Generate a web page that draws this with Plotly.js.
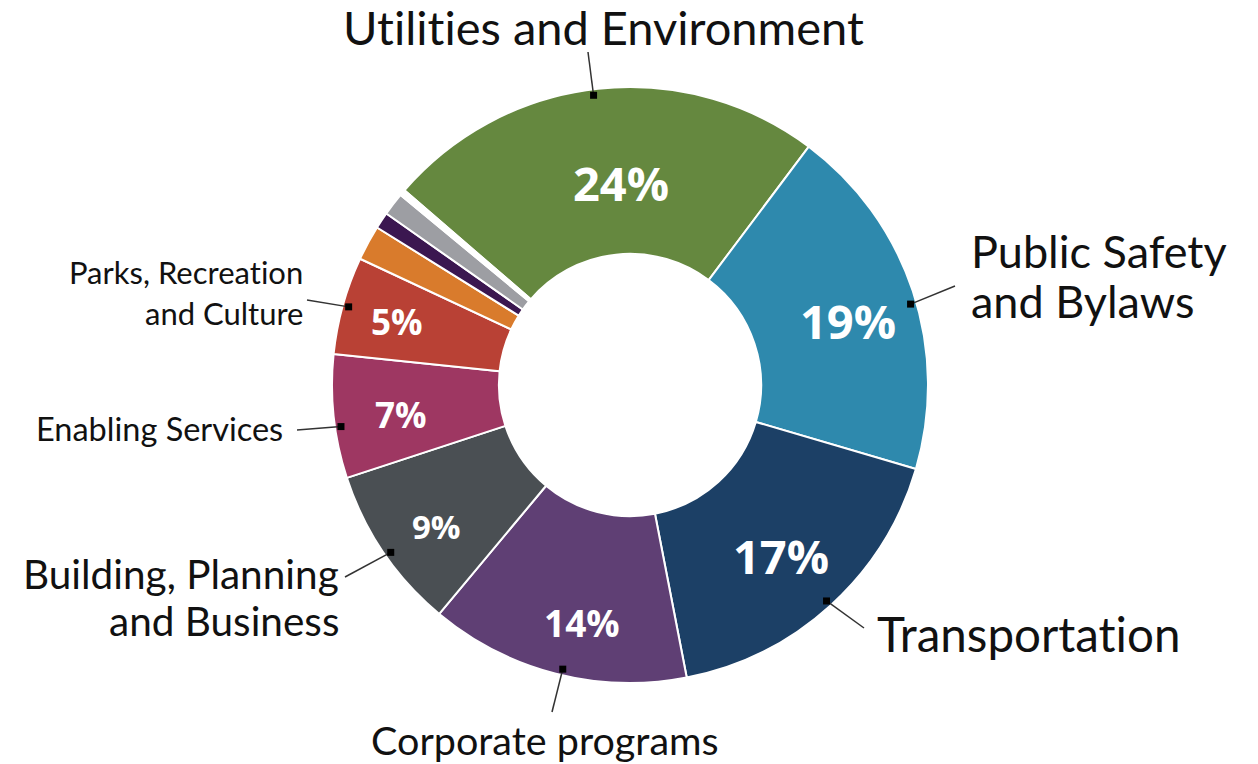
<!DOCTYPE html>
<html><head><meta charset="utf-8">
<script src="https://cdn.plot.ly/plotly-3.0.1.min.js"></script>
<style>html,body{margin:0;padding:0;background:#fff;} #chart{width:1258px;height:764px;}
text{font-variant-ligatures:none;font-feature-settings:"liga" 0,"clig" 0;}</style>
</head><body><div id="chart"></div>
<script>
// ---- data ----
const categories = ["Utilities and Environment","Public Safety and Bylaws","Transportation","Corporate programs","Building, Planning and Business","Enabling Services","Parks, Recreation and Culture","Other A","Other B","Other C","Other D","Other E","Other F"];
const shares = [23.9, 19.3, 17.4, 14.1, 8.9, 6.7, 5.3, 1.9, 0.9, 1.25, 0.12, 0.1, 0.1];
const pctLabels = ["24%","19%","17%","14%","9%","7%","5%"];
const calloutLines = [["Utilities and Environment"],["Public Safety","and Bylaws"],["Transportation"],["Corporate programs"],["Building, Planning","and Business"],["Enabling Services"],["Parks, Recreation","and Culture"]];

// ---- styles / layout ----
const sliceColors = ["#65883f","#2e89ad","#1c4066","#5f3f74","#4a4f53","#9e3762","#b94135","#d97b2c","#3b1750","#9d9ea3","#d8d8d8","#5b5b5b","#ececec"];
const W = 1258, H = 764, CX = 630, CY = 385, R = 298, ROT = -49.2;
const LFONT = "Lato, Open Sans, sans-serif";
const PFONT = "Open Sans, sans-serif";
// percent labels: angle offset (deg), radius (px), font size
const pctStyle = [{da:3.5,r:202,sz:47},{da:2.0,r:227,sz:47},{da:0.8,r:228,sz:47},{da:-3.0,r:242,sz:37},{da:-2.1,r:240,sz:33},{da:-1.3,r:231,sz:35},{da:-0.3,r:241,sz:35}];
// callouts: dot angle offset (deg), leader end (px), text anchor x, line centres y, font size
const calloutPos = [
  {da:-1.0, lx:588, ly:52,  tx:603, ty:[27],      xa:"center", sz:47},
  {da:2.3,  lx:955, ly:286, tx:970, ty:[251,301], xa:"left",   sz:45},
  {da:0.0,  lx:864, ly:628, tx:876, ty:[633],     xa:"left",   sz:47.5},
  {da:-1.1, lx:552, ly:712, tx:545, ty:[739],     xa:"center", sz:39.5},
  {da:-0.8, lx:345, ly:577, tx:340, ty:[573,620], xa:"right",  sz:40.5},
  {da:-2.1, lx:297, ly:430, tx:284, ty:[428],     xa:"right",  sz:32.5},
  {da:0.0,  lx:307, ly:300, tx:304, ty:[272,313], xa:"right",  sz:31}
];
const DR = 292;

const total = shares.reduce((a,b)=>a+b,0);
let acc = 0;
const midAngles = shares.map(v => { const m = ROT + (acc + v/2)/total*360; acc += v; return m; });
const px = x => x / W, py = y => 1 - y / H;
const polar = (deg, r) => { const a = deg*Math.PI/180; return [CX + r*Math.sin(a), CY - r*Math.cos(a)]; };

const shapes = [], annotations = [];
pctLabels.forEach((t, i) => {
  const s = pctStyle[i];
  const [x, y] = polar(midAngles[i] + s.da, s.r);
  annotations.push({text:"<b>"+t+"</b>", xref:"paper", yref:"paper", x:px(x), y:py(y), xanchor:"center", yanchor:"middle", showarrow:false, font:{family:PFONT, size:s.sz, color:"#ffffff"}});
});
calloutLines.forEach((lines, i) => {
  const p = calloutPos[i];
  const [dx, dy] = polar(midAngles[i] + p.da, DR);
  shapes.push({type:"line", xref:"paper", yref:"paper", x0:px(dx), y0:py(dy), x1:px(p.lx), y1:py(p.ly), line:{color:"#333", width:1.5}});
  shapes.push({type:"rect", xref:"paper", yref:"paper", x0:px(dx-3.5), x1:px(dx+3.5), y0:py(dy+3.5), y1:py(dy-3.5), fillcolor:"#000", line:{width:0}});
  lines.forEach((t, k) => {
    annotations.push({text:t, xref:"paper", yref:"paper", x:px(p.tx), y:py(p.ty[k]), xanchor:p.xa, yanchor:"middle", showarrow:false, borderpad:0, font:{family:LFONT, size:p.sz, color:"#111"}});
  });
});

const trace = {
  type:"pie", labels:categories, values:shares, sort:false, direction:"clockwise", rotation:ROT,
  hole:0.44, textinfo:"none",
  marker:{colors:sliceColors, line:{color:"#ffffff", width:2}},
  hoverinfo:"none", showlegend:false,
  domain:{x:[(CX-R)/W, (CX+R)/W], y:[1-(CY+R)/H, 1-(CY-R)/H]}
};
const layout = {width:W, height:H, margin:{l:0,r:0,t:0,b:0}, paper_bgcolor:"#fff", showlegend:false, shapes, annotations};
Plotly.newPlot("chart", [trace], layout, {displayModeBar:false, staticPlot:true});
</script></body></html>
